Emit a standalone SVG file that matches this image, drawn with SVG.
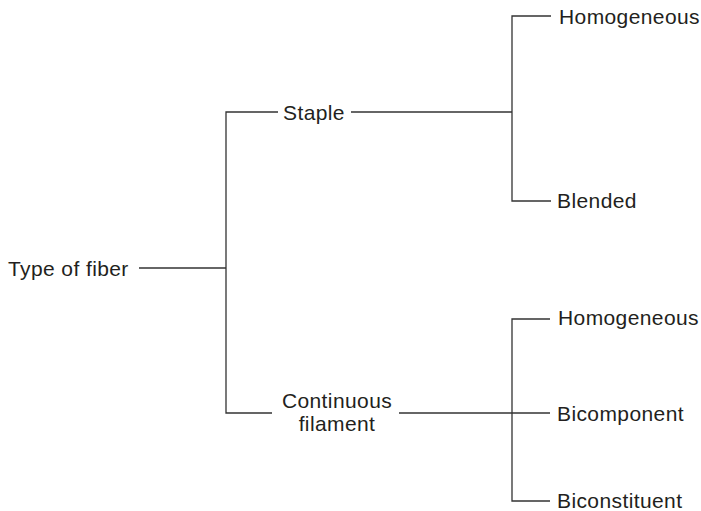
<svg xmlns="http://www.w3.org/2000/svg" width="701" height="511" viewBox="0 0 701 511">
<style>
  .t { font-family: "Liberation Sans", Arial, sans-serif; font-size: 21px; letter-spacing: 0.4px; fill: #231f20; }
  .c { fill: none; stroke: #333; stroke-width: 1.3; }
</style>
<rect width="701" height="511" fill="#fff"/>
<g id="connectors">
  <path class="c" d="M139,268 H226"/>
  <path class="c" d="M278,112 H226 V413 H272"/>
  <path class="c" d="M351,112 H512"/>
  <path class="c" d="M551,16 H512 V201 H551"/>
  <path class="c" d="M399,413 H550"/>
  <path class="c" d="M550,319 H512 V501 H550"/>
</g>
<g id="root"><text class="t" x="8" y="276">Type of fiber</text></g>
<g id="staple"><text class="t" x="283" y="120">Staple</text></g>
<g id="continuous"><text class="t" x="337" y="408" text-anchor="middle">Continuous</text><text class="t" x="337" y="431" text-anchor="middle">filament</text></g>
<g id="staple-homogeneous"><text class="t" x="559" y="24">Homogeneous</text></g>
<g id="blended"><text class="t" x="557" y="208">Blended</text></g>
<g id="cf-homogeneous"><text class="t" x="558" y="325">Homogeneous</text></g>
<g id="bicomponent"><text class="t" x="557" y="421">Bicomponent</text></g>
<g id="biconstituent"><text class="t" x="557" y="508">Biconstituent</text></g>
</svg>
